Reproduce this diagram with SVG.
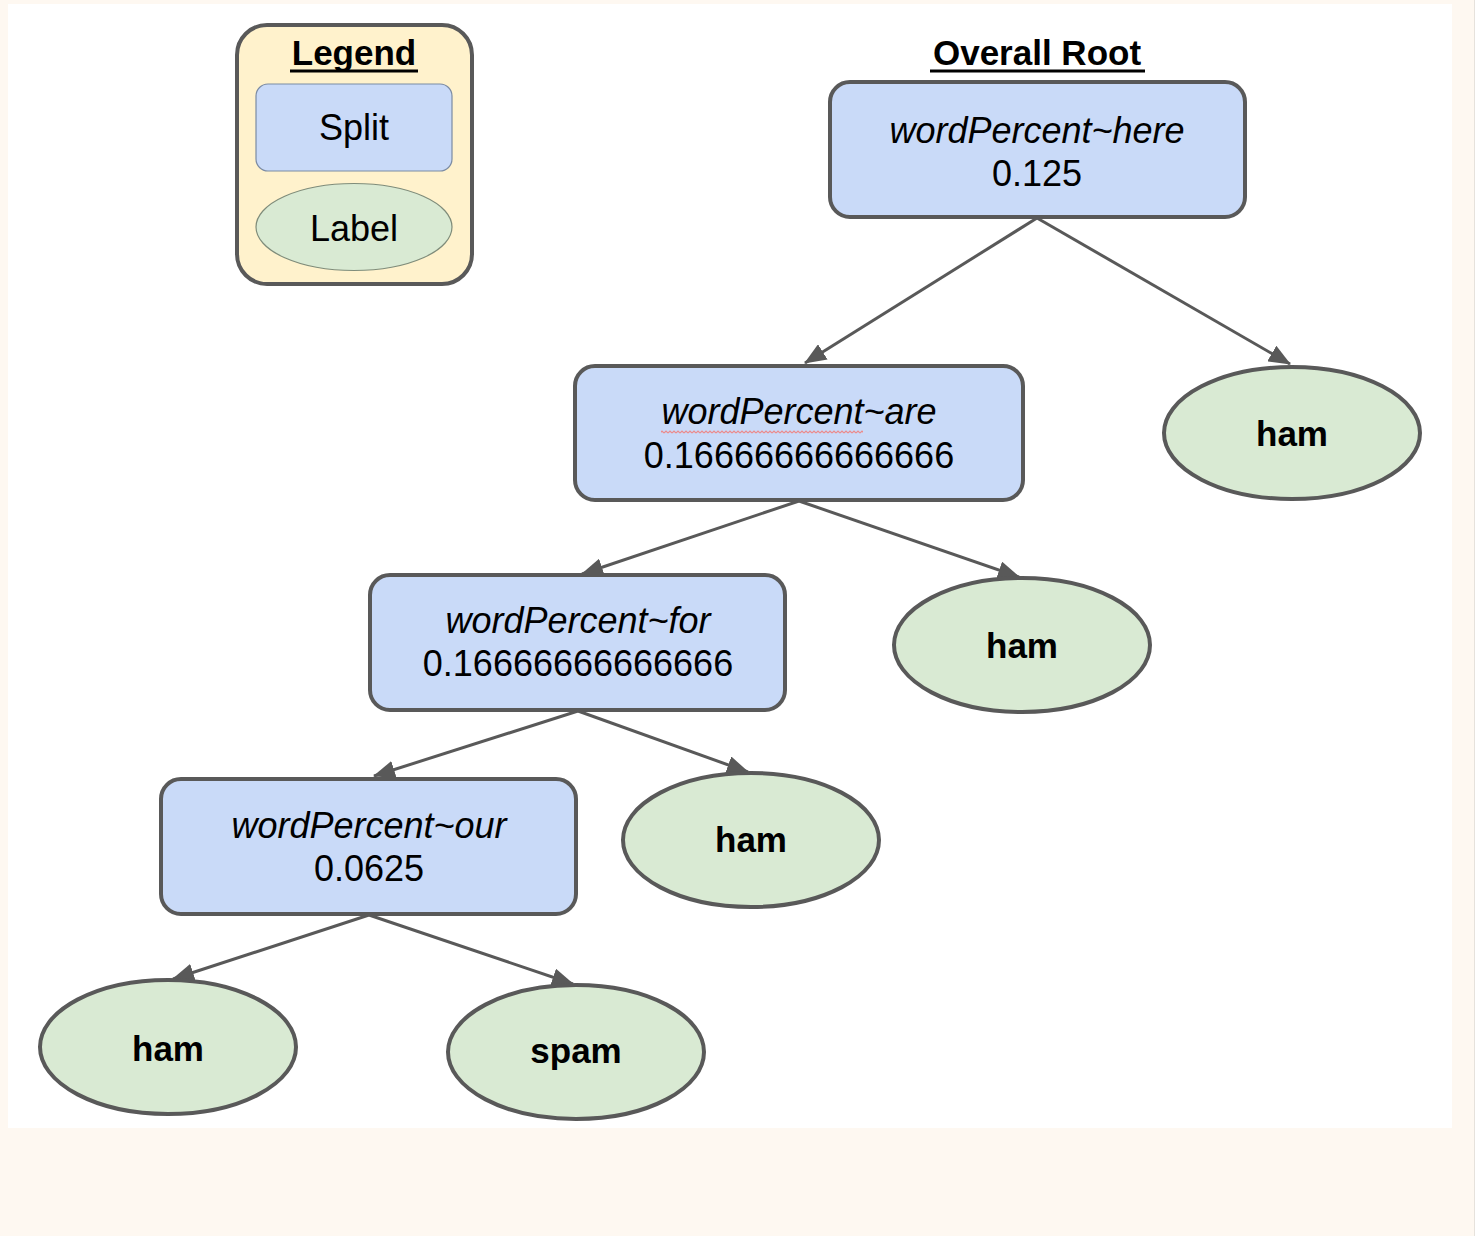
<svg xmlns="http://www.w3.org/2000/svg" width="1475" height="1236" viewBox="0 0 1475 1236">
  <defs>
    <style>
      .split { fill: #c9daf8; stroke: #595959; stroke-width: 4; }
      .leaf { fill: #d9ead3; stroke: #595959; stroke-width: 4; }
      .edge { stroke: #595959; stroke-width: 3; fill: none; marker-end: url(#arrow); }
      .t { font-family: "Liberation Sans", Arial, sans-serif; fill: #000; text-anchor: middle; }
      .cond { font-size: 36px; font-style: italic; }
      .num { font-size: 36px; }
      .lbl { font-size: 35px; font-weight: bold; }
      .head { font-size: 35px; font-weight: bold; }
    </style>
    <marker id="arrow" markerUnits="userSpaceOnUse" markerWidth="22" markerHeight="18" viewBox="0 0 22 18" refX="21" refY="9" orient="auto">
      <path d="M0,0 L22,9 L0,18 z" fill="#595959"/>
    </marker>
    <!-- wavy spell-check underline -->
    <pattern id="squiggle" patternUnits="userSpaceOnUse" x="660" y="430" width="4" height="4">
      <path d="M0,3 L2,1 L4,3" fill="none" stroke="#ec8a8a" stroke-width="1.2"/>
    </pattern>
  </defs>

  <!-- page background and canvas -->
  <rect x="0" y="0" width="1475" height="1236" fill="#fef8f1"/>
  <rect x="8" y="4" width="1444" height="1124" fill="#ffffff"/>
  <line x1="1474.5" y1="0" x2="1474.5" y2="1236" stroke="#e6e2dc" stroke-width="1"/>

  <!-- legend -->
  <g id="legend">
    <rect x="237" y="25" width="235" height="259" rx="30" fill="#fff2cc" stroke="#595959" stroke-width="4"/>
    <text class="t head" x="354" y="65">Legend</text>
    <line x1="290" y1="71" x2="418" y2="71" stroke="#000" stroke-width="3"/>
    <rect x="256" y="84" width="196" height="87" rx="12" fill="#c9daf8" stroke="#7b8ba3" stroke-width="1.2"/>
    <text class="t num" x="354" y="140">Split</text>
    <ellipse cx="354" cy="227" rx="98" ry="43.5" fill="#d9ead3" stroke="#7f8c7a" stroke-width="1.2"/>
    <text class="t num" x="354" y="241">Label</text>
  </g>

  <!-- title -->
  <g id="title">
    <text class="t head" x="1037" y="65">Overall Root</text>
    <line x1="930" y1="71" x2="1145" y2="71" stroke="#000" stroke-width="3"/>
  </g>

  <!-- connectors -->
  <g id="connectors">
    <line class="edge" x1="1037" y1="218" x2="805" y2="363"/>
    <line class="edge" x1="1037" y1="218" x2="1290" y2="364"/>
    <line class="edge" x1="799" y1="501" x2="582" y2="574"/>
    <line class="edge" x1="799" y1="501" x2="1019" y2="577"/>
    <line class="edge" x1="578" y1="711" x2="374" y2="776"/>
    <line class="edge" x1="578" y1="711" x2="748" y2="772"/>
    <line class="edge" x1="369" y1="915" x2="173" y2="979"/>
    <line class="edge" x1="369" y1="915" x2="573" y2="984"/>
  </g>

  <!-- split nodes -->
  <g id="split-here">
    <rect class="split" x="830" y="82" width="415" height="135" rx="20"/>
    <text class="t cond" x="1037" y="143">wordPercent~here</text>
    <text class="t num" x="1037" y="186">0.125</text>
  </g>
  <g id="split-are">
    <rect class="split" x="575" y="366" width="448" height="134" rx="20"/>
    <text class="t cond" x="799" y="424">wordPercent~are</text>
    <rect x="661" y="430" width="202" height="4" fill="url(#squiggle)"/>
    <text class="t num" x="799" y="468">0.16666666666666</text>
  </g>
  <g id="split-for">
    <rect class="split" x="370" y="575" width="415" height="135" rx="20"/>
    <text class="t cond" x="578" y="633">wordPercent~for</text>
    <text class="t num" x="578" y="676">0.16666666666666</text>
  </g>
  <g id="split-our">
    <rect class="split" x="161" y="779" width="415" height="135" rx="20"/>
    <text class="t cond" x="369" y="838">wordPercent~our</text>
    <text class="t num" x="369" y="881">0.0625</text>
  </g>

  <!-- label nodes -->
  <g id="leaf-ham-1">
    <ellipse class="leaf" cx="1292" cy="433" rx="128" ry="66"/>
    <text class="t lbl" x="1292" y="446">ham</text>
  </g>
  <g id="leaf-ham-2">
    <ellipse class="leaf" cx="1022" cy="645" rx="128" ry="67"/>
    <text class="t lbl" x="1022" y="658">ham</text>
  </g>
  <g id="leaf-ham-3">
    <ellipse class="leaf" cx="751" cy="840" rx="128" ry="67"/>
    <text class="t lbl" x="751" y="852">ham</text>
  </g>
  <g id="leaf-ham-4">
    <ellipse class="leaf" cx="168" cy="1047" rx="128" ry="67"/>
    <text class="t lbl" x="168" y="1061">ham</text>
  </g>
  <g id="leaf-spam">
    <ellipse class="leaf" cx="576" cy="1052" rx="128" ry="67"/>
    <text class="t lbl" x="576" y="1063">spam</text>
  </g>
</svg>
